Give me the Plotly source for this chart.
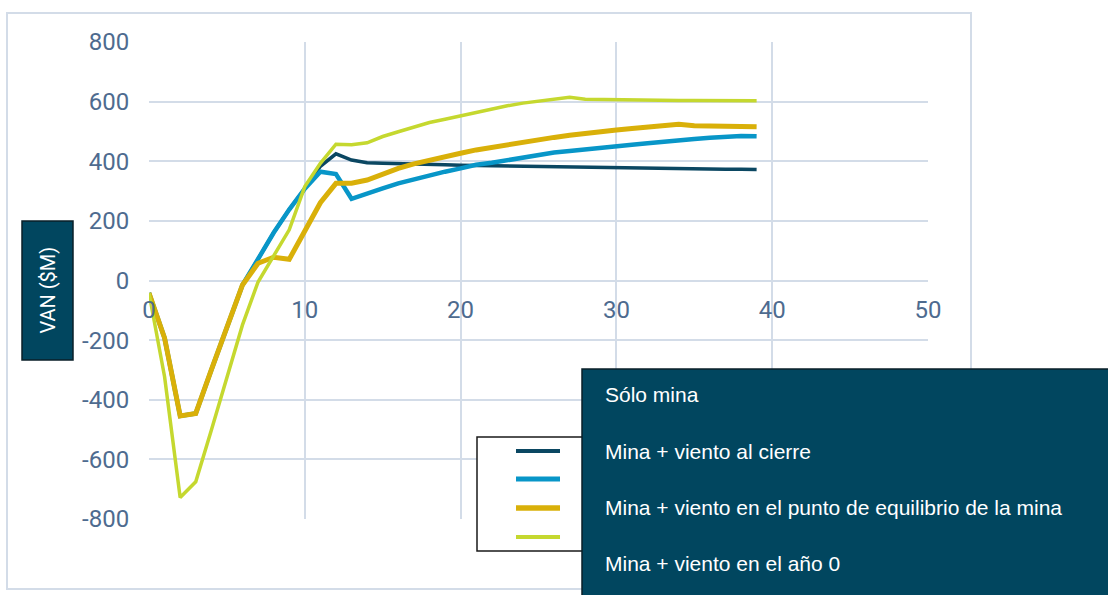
import plotly.graph_objects as go

years = list(range(0, 40))

solo_mina = [-42, -193, -454, -446, -300, -155, -15, 72, 160, 238, 308, 383, 425, 404, 395, 393,
             391, 390, 389, 388, 387, 386, 385, 384, 383, 382, 381, 380, 379, 378,
             377, 377, 376, 376, 375, 374, 374, 373, 373, 372]
viento_cierre = [-42, -193, -454, -446, -300, -155, -15, 72, 160, 238, 308, 365, 357, 274, 290, 309,
                 326, 340, 352, 365, 376, 388, 395, 404, 413, 421, 429, 434, 440, 445,
                 449, 455, 460, 466, 471, 475, 479, 482, 485, 484]
viento_equilibrio = [-42, -193, -454, -446, -300, -155, -15, 58, 78, 71, 170, 261, 326, 326, 337, 357,
                     376, 391, 404, 415, 427, 438, 447, 457, 466, 474, 480, 487, 494, 500,
                     505, 510, 515, 520, 524, 519, 518, 517, 517, 516]
viento_ano0 = [-42, -323, -728, -675, -502, -323, -149, -5, 80, 170, 315, 393, 457, 455, 462, 483,
               499, 516, 530, 541, 553, 565, 577, 586, 595, 602, 609, 615, 608, 607,
               606, 606, 605, 605, 604, 604, 604, 603, 603, 603]

series_names = ["Sólo mina", "Mina + viento al cierre",
                "Mina + viento en el punto de equilibrio de la mina", "Mina + viento en el año 0"]
series_values = [solo_mina, viento_cierre, viento_equilibrio, viento_ano0]
colors = ["#0b4762", "#0896c8", "#d9b009", "#c5d82f"]
widths = [3.5, 4.5, 5, 3.5]

x_ticks = [0, 10, 20, 30, 40, 50]
x_tick_labels = ["0", "10", "20", "30", "40", "50"]
y_ticks = [-800, -600, -400, -200, 0, 200, 400, 600, 800]
y_tick_labels = ["-800", "-600", "-400", "-200", "0", "200", "400", "600", "800"]
y_title = "VAN ($M)"

W, H = 1108, 595
L, R, T, B = 149, 928, 42, 519

def px(x):
    return (x - L) / (R - L)

def py(y):
    return (B - y) / (B - T)

fig = go.Figure()
for name, vals, c, w in zip(series_names, series_values, colors, widths):
    fig.add_trace(go.Scatter(x=years, y=vals, mode="lines", name=name,
                             line=dict(color=c, width=w), showlegend=False))

grid = "#d3dce8"
tickfont = dict(family="Roboto", size=24, color="#4e6b8f")

fig.update_layout(
    width=W, height=H, autosize=False,
    margin=dict(l=L, r=W - R, t=T, b=H - B, pad=0),
    paper_bgcolor="white", plot_bgcolor="white",
    xaxis=dict(range=[0, 50], tickvals=x_ticks, ticktext=x_tick_labels, showgrid=True, gridcolor=grid, gridwidth=2,
               zeroline=False, showline=False, anchor="free", position=0.5,
               ticks="outside", ticklen=8, tickcolor="rgba(0,0,0,0)", tickfont=tickfont),
    yaxis=dict(range=[-800, 800], tickvals=y_ticks, ticktext=y_tick_labels, showgrid=True, gridcolor=grid, gridwidth=2,
               zeroline=True, zerolinecolor=grid, zerolinewidth=2, showline=False,
               ticks="outside", ticklen=14, tickcolor="rgba(0,0,0,0)", tickfont=tickfont),
)

shapes = []
# outer chart border
shapes.append(dict(type="rect", xref="paper", yref="paper", x0=px(7), x1=px(971), y0=py(589), y1=py(13),
                   line=dict(color="#d3dce8", width=2), fillcolor="rgba(0,0,0,0)", layer="below"))
# y title box
shapes.append(dict(type="rect", xref="paper", yref="paper", x0=px(22), x1=px(73), y0=py(360), y1=py(221),
                   line=dict(color="#0a1f28", width=1.5), fillcolor="#01465f", layer="above"))
# legend white box
shapes.append(dict(type="rect", xref="paper", yref="paper", x0=px(477), x1=px(600), y0=py(551), y1=py(437),
                   line=dict(color="#1a1a1a", width=1.5), fillcolor="white", layer="above"))
leg_y = [451, 479, 508, 537]
for yy, c, w in zip(leg_y, colors, widths):
    shapes.append(dict(type="line", xref="paper", yref="paper", x0=px(516), x1=px(560), y0=py(yy), y1=py(yy),
                       line=dict(color=c, width=w + 0.5), layer="above"))
# dark legend overlay
shapes.append(dict(type="rect", xref="paper", yref="paper", x0=px(582), x1=px(1112), y0=py(600), y1=py(369),
                   line=dict(color="#0a1f28", width=1.5), fillcolor="#01465f", layer="above"))
fig.update_layout(shapes=shapes)

annotations = [dict(text=y_title, xref="paper", yref="paper", x=px(47.5), y=py(290), textangle=-90,
                    showarrow=False, font=dict(family="Roboto", size=20, color="white"),
                    xanchor="center", yanchor="middle")]
text_y = [394, 451, 507, 563]
for name, yy in zip(series_names, text_y):
    annotations.append(dict(text=name, xref="paper", yref="paper", x=px(603), y=py(yy), showarrow=False,
                            xanchor="left", yanchor="middle",
                            font=dict(family="Liberation Sans, Arial", size=21, color="white")))
fig.update_layout(annotations=annotations)

fig.write_html("out.html")
